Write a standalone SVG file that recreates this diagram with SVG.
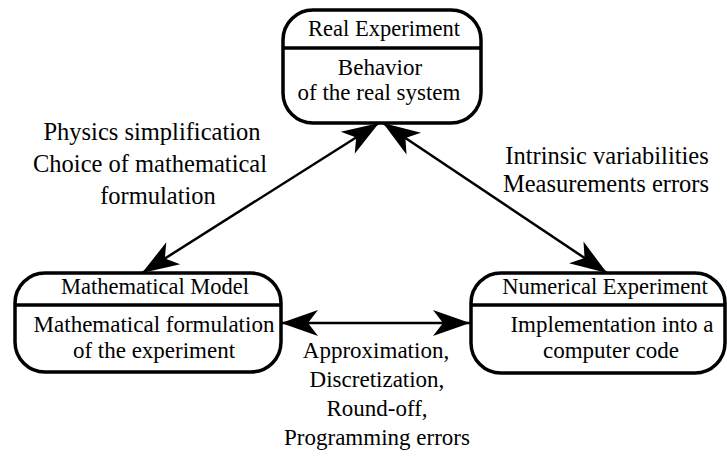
<svg xmlns="http://www.w3.org/2000/svg" width="727" height="458" viewBox="0 0 727 458">
<style>
.box{fill:#fff;stroke:#000;stroke-width:3.5}
.div{stroke:#000;stroke-width:3.5}
text{font-family:'Liberation Serif','Times New Roman',Times,serif;fill:#000;text-anchor:middle}
.t{font-size:22.5px}
.b{font-size:23px}
.l{font-size:23px}
.lb{font-size:24.5px}
.c{stroke:#000;stroke-width:2.5;fill:none;marker-start:url(#ah);marker-end:url(#ah)}
</style>
<defs>
<marker id="ah" markerUnits="userSpaceOnUse" viewBox="-40 -14 42 28" refX="0" refY="0" markerWidth="42" markerHeight="28" orient="auto-start-reverse">
<path d="M0,0 L-37,-13 L-27,0 L-37,13 Z" fill="#000"/>
</marker>
</defs>
<g id="connectors">
<line class="c" x1="379" y1="123" x2="142" y2="273"/>
<line class="c" x1="383" y1="123" x2="607" y2="273"/>
<line class="c" x1="281" y1="323" x2="470" y2="323"/>
</g>
<g id="real-experiment">
<rect class="box" x="283" y="10" width="198" height="113" rx="30" ry="30"/>
<line class="div" x1="283" y1="48" x2="481" y2="48"/>
<text class="t" x="384" y="36">Real Experiment</text>
<text class="b" x="380" y="75">Behavior</text>
<text class="b" x="379" y="100">of the real system</text>
</g>
<g id="mathematical-model">
<rect class="box" x="15" y="273" width="266" height="99" rx="30" ry="30"/>
<line class="div" x1="15" y1="305" x2="281" y2="305"/>
<text class="t" x="155" y="294">Mathematical Model</text>
<text class="b" x="154" y="332">Mathematical formulation</text>
<text class="b" x="154" y="358">of the experiment</text>
</g>
<g id="numerical-experiment">
<rect class="box" x="471" y="273" width="254" height="100" rx="30" ry="30"/>
<line class="div" x1="471" y1="305" x2="725" y2="305"/>
<text class="t" x="605" y="294">Numerical Experiment</text>
<text class="b" x="612" y="332">Implementation into a</text>
<text class="b" x="611" y="358">computer code</text>
</g>
<g id="labels">
<text class="lb" x="152" y="140">Physics simplification</text>
<text class="lb" x="150" y="172">Choice of mathematical</text>
<text class="lb" x="158" y="204">formulation</text>
<text class="lb" x="607" y="164">Intrinsic variabilities</text>
<text class="lb" x="606" y="192">Measurements errors</text>
<text class="l" x="376" y="358">Approximation,</text>
<text class="l" x="377" y="387">Discretization,</text>
<text class="l" x="377" y="416">Round-off,</text>
<text class="l" x="377" y="445">Programming errors</text>
</g>
</svg>
